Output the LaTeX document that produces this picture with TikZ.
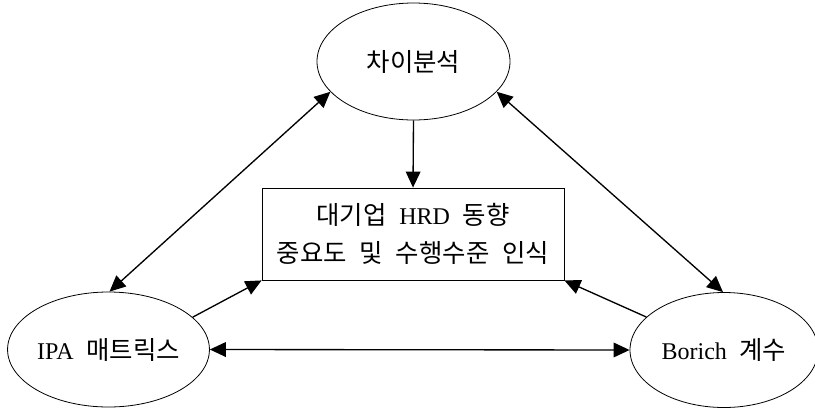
\documentclass[tikz,border=0pt]{standalone}
\usepackage{fontspec}
\setmainfont{Liberation Serif}
\newfontfamily\kr[Scale=1.06]{Noto Sans CJK KR}
\usetikzlibrary{shapes.geometric,arrows.meta}
\newcommand\kgap{\hspace{9.5pt}}
\begin{document}
\begin{tikzpicture}[x=0.75pt,y=-0.75pt,
  oval/.style={ellipse,draw,line width=0.6pt,inner sep=0pt,font=\fontsize{18pt}{21pt}\selectfont},
  centerbox/.style={rectangle,draw,line width=0.6pt,inner sep=0pt,minimum width=226.5pt,minimum height=69pt,align=center,font=\fontsize{18pt}{29pt}\selectfont},
  conn/.style={line width=1pt,-{Triangle[length=12pt,width=11pt]}},
  dconn/.style={line width=1pt,{Triangle[length=12pt,width=11pt]}-{Triangle[length=12pt,width=11pt]}}]
\useasboundingbox (0,0) rectangle (815,408);
\node[oval,minimum width=144.75pt,minimum height=87.75pt] (gap) at (413.5,61.5) {\kr 차이분석};
\node[oval,minimum width=144.75pt,minimum height=86.25pt] (ipa) at (108.5,349.5) {IPA\kgap{\kr 매트릭스}};
\node[oval,minimum width=141pt,minimum height=86.25pt] (bor) at (724,350) {Borich\kgap{\kr 계수}};
\node[centerbox] (hrd) at (413,234) {{\kr 대기업}\kgap HRD\kgap{\kr 동향}\\{\kr 중요도\kgap 및\kgap 수행수준\kgap 인식}};
\draw[conn] (gap.south) -- (hrd.north);
\draw[dconn] (gap.200) -- (ipa.89);
\draw[dconn] (gap.340) -- (bor.91);
\draw[conn] (ipa.21) -- (hrd.south west);
\draw[conn] (bor.157) -- (hrd.south east);
\draw[dconn] (ipa.east) -- (bor.west);
\end{tikzpicture}
\end{document}
